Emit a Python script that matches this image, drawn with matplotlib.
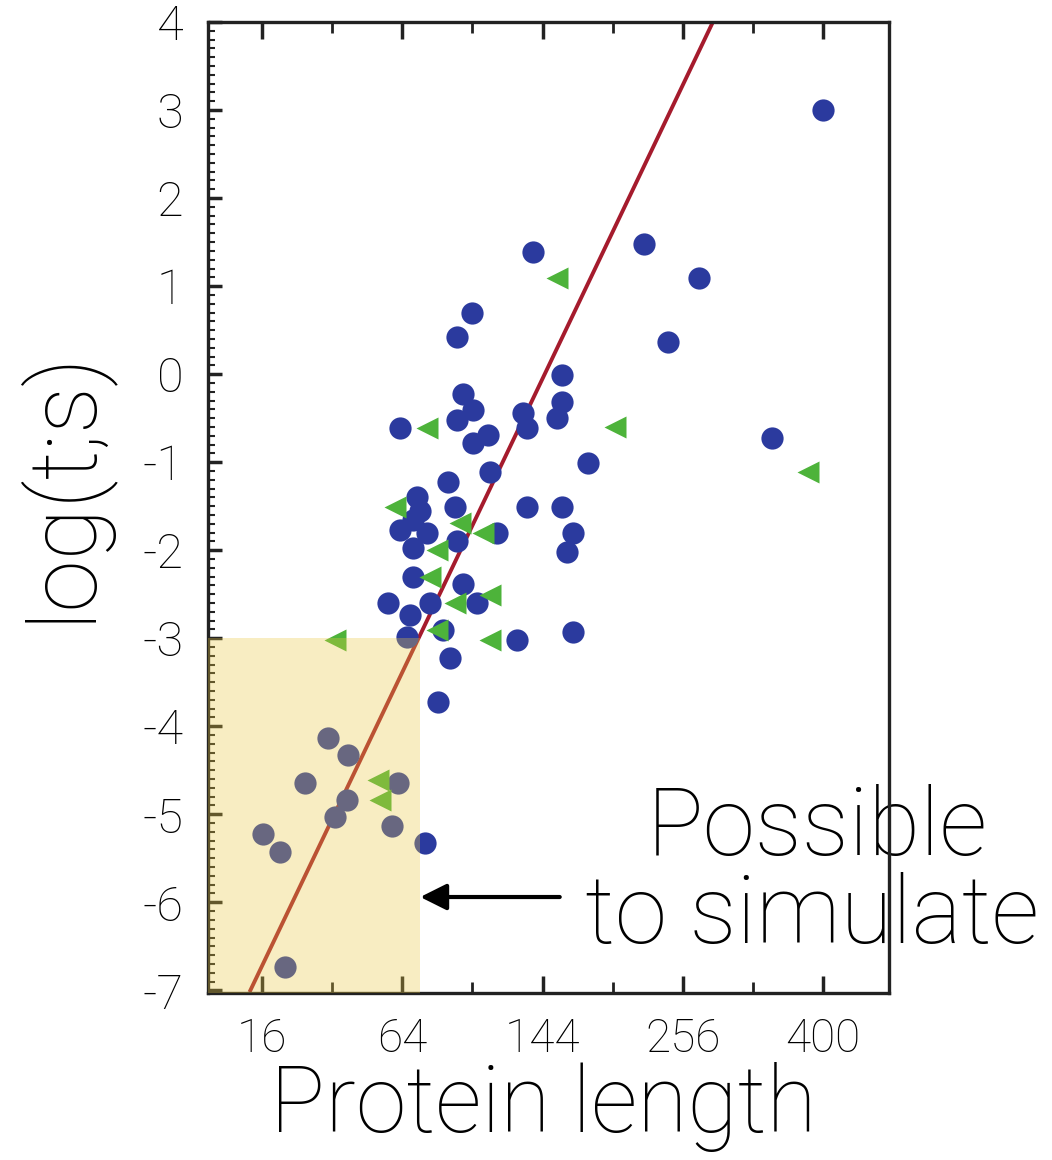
import numpy as np
import matplotlib
matplotlib.use("Agg")
import matplotlib.pyplot as plt
from matplotlib.ticker import FixedLocator, MultipleLocator, NullFormatter

plt.rcParams['font.family'] = ['Roboto', 'DejaVu Sans']
plt.rcParams['font.weight'] = 'light'
plt.rcParams['axes.unicode_minus'] = False

# blue circles: protein length vs log folding time
blue_len = [400, 137.6, 222, 271, 243, 100, 91.4, 157.7, 157.7, 154,
            94.7, 100.4, 91.4, 130.9, 133.6, 63, 109.2, 100.4, 176.9, 344,
            110.3, 86.7, 70.9, 90.3, 133.6, 157.7, 63, 69.1, 75.8, 69.1,
            72.4, 91.4, 114.5, 165.6, 161.3, 69.1, 57.6, 67.6, 77.3, 94.7,
            102.6, 66.3, 83.9, 87.6, 81.4, 127, 165.6, 74.8,
            34.6, 41.6, 27.3, 41.3, 37, 62.1, 59.4, 16.2, 20.4, 21.7]
blue_logt = [3.0, 1.39, 1.48, 1.09, 0.36, 0.69, 0.42, -0.01, -0.32, -0.5,
             -0.22, -0.41, -0.52, -0.44, -0.61, -0.61, -0.69, -0.78, -1.01, -0.72,
             -1.11, -1.22, -1.40, -1.51, -1.51, -1.51, -1.77, -1.66, -1.81, -1.97,
             -1.55, -1.89, -1.81, -1.81, -2.02, -2.31, -2.60, -2.74, -2.60, -2.38,
             -2.60, -2.99, -2.91, -3.23, -3.73, -3.02, -2.93, -5.33,
             -4.13, -4.33, -4.65, -4.84, -5.03, -4.64, -5.13, -5.22, -5.43, -6.74]

# green triangles
green_len = [154, 75.8, 198, 383, 60.7, 93.1, 106, 80.8, 77.3, 90.3,
             110.3, 80.8, 110.3, 37, 53.4, 54.3]
green_logt = [1.09, -0.61, -0.60, -1.11, -1.51, -1.69, -1.81, -2.0, -2.31, -2.60,
              -2.51, -2.91, -3.02, -3.02, -4.61, -4.84]

# fitted line end points
fit_len = [13.4, 284.3]
fit_logt = [-7, 4]

# region that can be simulated
sim_len = 72.4
sim_logt = -3.0
arrow_logt = -5.94
arrow_from_len = 156

xticks = [16, 64, 144, 256, 400]
xminor = [36, 100, 196, 324]

fig = plt.figure(figsize=(10.52, 11.6), dpi=100)
ax = fig.add_axes([0.198, 0.144, 0.647, 0.837])
ax.set_xscale('function', functions=(lambda v: np.sqrt(np.clip(v, 0, None)), np.square))
ax.set_xlim(6.05, 479)
ax.set_ylim(-7.03, 4)

ax.plot(fit_len, fit_logt, color='#A51B2D', lw=2.8, zorder=2)
ax.plot(blue_len, blue_logt, 'o', color='#2B3A9E', ms=16, mec='none', zorder=3)
ax.plot(green_len, green_logt, '<', color='#4DB33A', ms=16, mec='none', zorder=3)

ax.fill_between([6.05, sim_len], -7.03, sim_logt, color='#EAC942', alpha=0.32,
                lw=0, zorder=4)

ax.annotate('', xy=(sim_len, arrow_logt), xytext=(arrow_from_len, arrow_logt),
            arrowprops=dict(arrowstyle='-|>', color='black', lw=3,
                            mutation_scale=40, shrinkA=0, shrinkB=0), zorder=5)

ax.xaxis.set_major_locator(FixedLocator(xticks))
ax.xaxis.set_minor_locator(FixedLocator(xminor))
ax.xaxis.set_minor_formatter(NullFormatter())
ax.set_xticklabels([str(t) for t in xticks])
ax.yaxis.set_major_locator(MultipleLocator(1))
ax.yaxis.set_minor_locator(MultipleLocator(0.1))

ax.tick_params(axis='both', which='both', direction='in', top=True, right=False,
               colors='#222222', labelcolor='black')
ax.tick_params(axis='x', which='major', length=12, width=2.5, pad=17, labelsize=33)
ax.tick_params(axis='x', which='minor', length=8, width=2)
ax.tick_params(axis='y', which='major', length=10, width=2.5, pad=18, labelsize=35)
ax.tick_params(axis='y', which='minor', length=5, width=1.5)

for sp in ax.spines.values():
    sp.set_linewidth(2.4)
    sp.set_color('#222222')

fig.text(0.058, 0.582, 'log(t;s)', rotation=90, fontsize=68,
         ha='center', va='center')
fig.text(0.516, 0.024, 'Protein length', fontsize=66,
         ha='center', va='baseline')

ax.text(0.777, 1 - 855 / 1160, 'Possible', transform=fig.transFigure, fontsize=68,
        ha='center', va='baseline', zorder=2, clip_on=False)
ax.text(0.772, 1 - 943 / 1160, 'to simulate', transform=fig.transFigure, fontsize=68,
        ha='center', va='baseline', zorder=2, clip_on=False)

fig.savefig('out.png', dpi=100)
